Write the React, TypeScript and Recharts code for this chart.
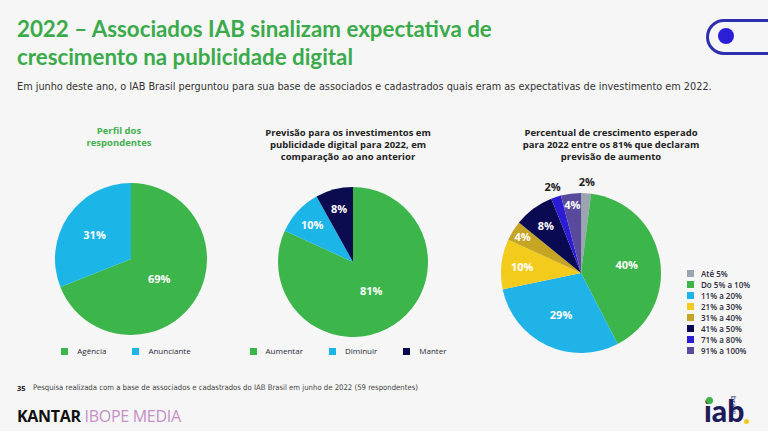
import React from "react";
import { PieChart, Pie, Cell, Legend } from "recharts";

// Perfil dos respondentes
const perfilNames = ["Agência", "Anunciante"];
const perfilValues = [69, 31];
const perfilColors = ["#3cb54b", "#1bb5e8"];

// Previsão de investimentos
const previsaoNames = ["Aumentar", "Diminuir", "Manter"];
const previsaoValues = [81, 10, 8];
const previsaoColors = ["#3cb54b", "#1bb5e8", "#0b0b50"];

// Percentual de crescimento esperado
const crescNames = [
  "Até 5%",
  "Do 5% a 10%",
  "11% a 20%",
  "21% a 30%",
  "31% a 40%",
  "41% a 50%",
  "71% a 80%",
  "91% a 100%",
];
const crescValues = [2, 40, 29, 10, 4, 8, 2, 4];
const crescColors = [
  "#9ba5b0",
  "#3cb54b",
  "#1fb3e8",
  "#f2cb1d",
  "#c6a525",
  "#0a0a52",
  "#2c1cd4",
  "#5a4a9e",
];

const toData = (names: string[], values: number[]) =>
  names.map((name, i) => ({ name, value: values[i] }));

const perfilData = toData(perfilNames, perfilValues);
const previsaoData = toData(previsaoNames, previsaoValues);
const crescData = toData(crescNames, crescValues);

const RADIAN = Math.PI / 180;
const FONT = "'Open Sans', 'Noto Sans', sans-serif";

// place small slices further out, tiny ones outside the pie
const renderLabel = (props: any) => {
  const { cx, cy, midAngle, outerRadius, percent, value } = props;
  let f = 0.45;
  if (percent < 0.025) f = 1.14;
  else if (percent < 0.05) f = 0.86;
  else if (percent < 0.15) f = 0.74;
  else if (percent < 0.5) f = 0.58;
  const outside = f > 1;
  const r = outerRadius * f;
  const x = cx + r * Math.cos(-midAngle * RADIAN);
  const y = cy + r * Math.sin(-midAngle * RADIAN);
  return (
    <text
      x={x}
      y={y}
      textAnchor="middle"
      dominantBaseline="central"
      fill={outside ? "#1c1c1c" : "#ffffff"}
      fontSize={11}
      fontWeight={700}
      fontFamily={FONT}
    >
      {value}%
    </text>
  );
};

// legend drawn from the pie payload, kept in data order
const makeLegend = (names: string[], vertical: boolean) => (props: any) => {
  const items = [...(props.payload || [])].sort(
    (a: any, b: any) => names.indexOf(a.value) - names.indexOf(b.value)
  );
  return (
    <div
      style={{
        display: "flex",
        flexDirection: vertical ? "column" : "row",
        justifyContent: "center",
        gap: vertical ? 0 : 26,
        fontFamily: FONT,
        fontSize: 8,
        color: "#2a2a3a",
        lineHeight: vertical ? "11px" : "12px",
        fontWeight: vertical ? 600 : 400,
      }}
    >
      {items.map((it: any) => (
        <div
          key={it.value}
          style={{ display: "flex", alignItems: "center", whiteSpace: "nowrap", height: vertical ? 11 : 12 }}
        >
          <span
            style={{
              display: "inline-block",
              width: 7,
              height: 7,
              background: it.color,
              marginRight: vertical ? 7 : 9,
            }}
          />
          {it.value}
        </div>
      ))}
    </div>
  );
};

const abs = (left: number, top: number): React.CSSProperties => ({
  position: "absolute",
  left,
  top,
});

const chartTitle: React.CSSProperties = {
  position: "absolute",
  fontFamily: FONT,
  fontWeight: 700,
  fontSize: 9.5,
  lineHeight: "12px",
  textAlign: "center",
  color: "#222",
};

export default function App() {
  return (
    <div
      style={{
        position: "absolute",
        left: 0,
        top: 0,
        width: 768,
        height: 431,
        overflow: "hidden",
        background: "#f6f6f6",
        fontFamily: FONT,
      }}
    >
      {/* title */}
      <div
        style={{
          ...abs(17, 15),
          fontFamily: "Lato, sans-serif",
          fontWeight: 700,
          fontSize: 22.3,
          lineHeight: "28px",
          color: "#3aaa4b",
        }}
      >
        2022 – Associados IAB sinalizam expectativa de
        <br />
        crescimento na publicidade digital
      </div>
      <div
        style={{
          ...abs(17, 80),
          fontFamily: "'DejaVu Sans Condensed', sans-serif",
          fontSize: 10.8,
          color: "#333",
          whiteSpace: "nowrap",
        }}
      >
        Em junho deste ano, o IAB Brasil perguntou para sua base de associados e cadastrados quais eram as
        expectativas de investimento em 2022.
      </div>

      {/* decoration top right */}
      <div
        style={{
          ...abs(706, 19),
          width: 90,
          height: 30,
          border: "3px solid #2d2fae",
          borderRadius: 18,
        }}
      />
      <div
        style={{
          ...abs(718, 28),
          width: 16,
          height: 16,
          borderRadius: 8,
          background: "#2a1fd6",
        }}
      />

      {/* chart titles */}
      <div style={{ ...chartTitle, left: 59, top: 125, width: 120, color: "#45b04f" }}>
        Perfil dos
        <br />
        respondentes
      </div>
      <div style={{ ...chartTitle, left: 248, top: 127, width: 200 }}>
        Previsão para os investimentos em
        <br />
        publicidade digital para 2022, em
        <br />
        comparação ao ano anterior
      </div>
      <div style={{ ...chartTitle, left: 511, top: 127, width: 200 }}>
        Percentual de crescimento esperado
        <br />
        para 2022 entre os 81% que declaram
        <br />
        previsão de aumento
      </div>

      {/* chart 1 */}
      <div style={abs(16, 150)}>
        <PieChart width={220} height={212}>
          <Pie
            data={perfilData}
            dataKey="value"
            nameKey="name"
            cx={110}
            cy={104}
            outerRadius={76}
            startAngle={90}
            endAngle={-270}
            stroke="none"
            label={renderLabel}
            labelLine={false}
            isAnimationActive={false}
          >
            {perfilData.map((d, i) => (
              <Cell key={d.name} fill={perfilColors[i]} />
            ))}
          </Pie>
          <Legend
            layout="horizontal"
            align="center"
            verticalAlign="bottom"
            content={makeLegend(perfilNames, false)}
          />
        </PieChart>
      </div>

      {/* chart 2 */}
      <div style={abs(238, 150)}>
        <PieChart width={220} height={212}>
          <Pie
            data={previsaoData}
            dataKey="value"
            nameKey="name"
            cx={110}
            cy={107}
            outerRadius={75}
            startAngle={90}
            endAngle={-270}
            stroke="none"
            label={renderLabel}
            labelLine={false}
            isAnimationActive={false}
          >
            {previsaoData.map((d, i) => (
              <Cell key={d.name} fill={previsaoColors[i]} />
            ))}
          </Pie>
          <Legend
            layout="horizontal"
            align="center"
            verticalAlign="bottom"
            content={makeLegend(previsaoNames, false)}
          />
        </PieChart>
      </div>

      {/* chart 3 */}
      <div style={abs(470, 160)}>
        <PieChart width={298} height={210}>
          <Pie
            data={crescData}
            dataKey="value"
            nameKey="name"
            cx={106}
            cy={108}
            outerRadius={80}
            startAngle={90}
            endAngle={-270}
            stroke="none"
            label={renderLabel}
            labelLine={false}
            isAnimationActive={false}
          >
            {crescData.map((d, i) => (
              <Cell key={d.name} fill={crescColors[i]} />
            ))}
          </Pie>
          <Legend
            layout="vertical"
            align="right"
            verticalAlign="top"
            content={makeLegend(crescNames, true)}
            wrapperStyle={{ top: 108, left: 217, width: 90 }}
          />
        </PieChart>
      </div>

      {/* footer */}
      <div style={{ ...abs(17, 383), fontSize: 7.5, fontWeight: 700, color: "#222" }}>35</div>
      <div
        style={{
          ...abs(33, 383),
          fontFamily: "'DejaVu Sans Condensed', sans-serif",
          fontSize: 7.7,
          color: "#444",
          whiteSpace: "nowrap",
        }}
      >
        Pesquisa realizada com a base de associados e cadastrados do IAB Brasil em junho de 2022 (59 respondentes)
      </div>
      <div
        style={{
          ...abs(17, 405),
          fontFamily: FONT,
          fontSize: 16,
          letterSpacing: -0.3,
          whiteSpace: "nowrap",
        }}
      >
        <span style={{ fontWeight: 700, color: "#111" }}>KANTAR </span>
        <span style={{ color: "#c48ec6" }}>IBOPE MEDIA</span>
      </div>
      <div
        style={{
          ...abs(704, 393),
          fontFamily: "Lato, sans-serif",
          fontWeight: 900,
          fontSize: 30,
          lineHeight: "34px",
          color: "#1d1b5a",
        }}
      >
        iab
      </div>
      <div style={{ ...abs(706, 397), width: 7, height: 7, borderRadius: 4, background: "#3cb54b" }} />
      <div
        style={{
          ...abs(738, 396),
          fontSize: 7,
          color: "#1d1b5a",
          transform: "rotate(90deg)",
          transformOrigin: "left top",
          whiteSpace: "nowrap",
        }}
      >
        brasil
      </div>
      <div style={{ ...abs(744, 419), width: 5, height: 5, borderRadius: 3, background: "#f2cb1d" }} />
    </div>
  );
}
